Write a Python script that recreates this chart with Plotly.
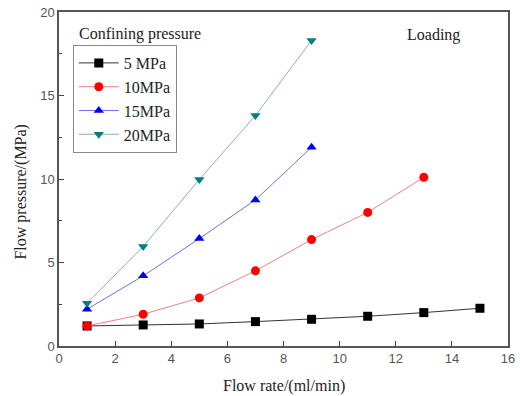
import plotly.graph_objects as go

x5 = [1, 3, 5, 7, 9, 11, 13, 15]
y5 = [1.2, 1.26, 1.32, 1.46, 1.6, 1.78, 2.0, 2.26]
x10 = [1, 3, 5, 7, 9, 11, 13]
y10 = [1.2, 1.9, 2.88, 4.5, 6.37, 8.0, 10.1]
x15 = [1, 3, 5, 7, 9]
y15 = [2.2, 4.2, 6.43, 8.75, 11.9]
x20 = [1, 3, 5, 7, 9]
y20 = [2.56, 5.96, 9.97, 13.8, 18.3]

names = ["5 MPa", "10MPa", "15MPa", "20MPa"]
xs = [x5, x10, x15, x20]
ys = [y5, y10, y15, y20]
line_colors = ["#333333", "#f08080", "#7070e0", "#8fb0b0"]
marker_colors = ["#000000", "#ff0000", "#0000ee", "#008080"]
symbols = ["square", "circle", "triangle-up", "triangle-down"]

fig = go.Figure()
for n, xv, yv, lc, mc, s in zip(names, xs, ys, line_colors, marker_colors, symbols):
    fig.add_trace(go.Scatter(
        x=xv, y=yv, name=n, mode="lines+markers",
        line=dict(color=lc, width=1),
        marker=dict(color=mc, symbol=s, size=9),
    ))

serif = "Liberation Serif, Times New Roman, serif"
W, H = 520, 396
L, R, T, B = 59, 5, 12, 50
pw, ph = W - L - R, H - T - B

fig.update_layout(
    width=W, height=H,
    margin=dict(l=L, r=R, t=T, b=B),
    plot_bgcolor="white", paper_bgcolor="white",
    showlegend=True,
    legend=dict(
        x=(73 - L) / pw, y=(H - B - 45) / ph, xanchor="left", yanchor="top",
        bordercolor="#888888", borderwidth=1, bgcolor="white",
        font=dict(family=serif, size=16, color="#222222"),
        tracegroupgap=0, itemwidth=40,
    ),
    font=dict(family="Liberation Sans, Arial, sans-serif", size=13, color="#555555"),
)
fig.update_xaxes(
    range=[0, 16], tickvals=[0, 2, 4, 6, 8, 10, 12, 14, 16],
    ticks="inside", ticklen=5, tickcolor="#444444",
    ticklabeloverflow="allow",
    showline=True, linecolor="#555555", linewidth=1.5, mirror=True,
    showgrid=False, zeroline=False,
)
fig.update_yaxes(
    range=[0, 20], tickvals=[0, 5, 10, 15, 20],
    ticks="inside", ticklen=5, tickcolor="#444444",
    ticklabeloverflow="allow",
    minor=dict(tickvals=[2.5, 7.5, 12.5, 17.5], ticks="inside", ticklen=3, tickcolor="#444444"),
    showline=True, linecolor="#555555", linewidth=1.5, mirror=True,
    showgrid=False, zeroline=False,
)

def px_x(p):
    return (p - L) / pw

def px_y(p):
    return (H - B - p) / ph

ann_font = dict(family=serif, size=16, color="#222222")
fig.add_annotation(text="Flow rate/(ml/min)", xref="paper", yref="paper",
                   x=px_x(287), y=px_y(386), xanchor="center", yanchor="middle",
                   showarrow=False, font=ann_font)
fig.add_annotation(text="Flow pressure/(MPa)", xref="paper", yref="paper",
                   x=px_x(20), y=px_y(192), xanchor="center", yanchor="middle",
                   textangle=-90, showarrow=False, font=ann_font)
fig.add_annotation(text="Confining pressure", xref="paper", yref="paper",
                   x=px_x(77), y=px_y(34), xanchor="left", yanchor="middle",
                   showarrow=False, font=ann_font)
fig.add_annotation(text="Loading", xref="paper", yref="paper",
                   x=px_x(439), y=px_y(35), xanchor="center", yanchor="middle",
                   showarrow=False, font=ann_font)
fig.write_html("out.html")
